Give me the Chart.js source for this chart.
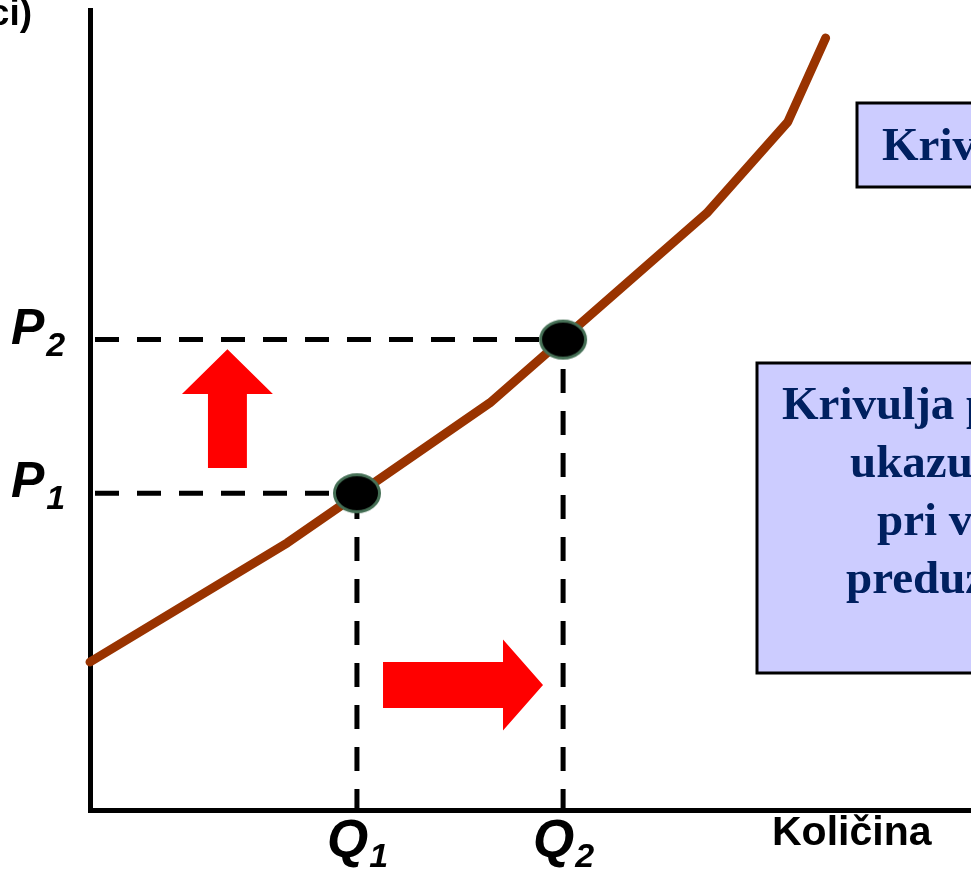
<!DOCTYPE html>
<html>
<head>
<meta charset="utf-8">
<script src="https://cdn.jsdelivr.net/npm/chart.js@4/dist/chart.umd.min.js"></script>
<style>
  html, body { margin: 0; padding: 0; background: #ffffff; }
  #wrap { position: relative; width: 971px; height: 870px; }
</style>
</head>
<body>
<div id="wrap"><canvas id="supply" width="971" height="870"></canvas></div>
<script>
// Supply curve vertices: quantity (x) and price (y)
const supplyQuantity = [0, 2.24, 4.54, 7.0, 7.92, 8.35];
const supplyPrice = [1.85, 3.34, 5.09, 7.46, 8.6, 9.65];

// The two marked positions on the curve
const quantityLevels = [3.03, 5.37];
const priceLevels = [3.96, 5.88];
const levelSubscripts = ['1', '2'];

// Text
const axisTitleX = 'Količina';
const axisTitleY = 'ci)';
const noteUpper = ['Kriv'];
const noteLower = ['Krivulja p', 'ukazu', 'pri v', 'preduz'];

// Shift arrows, in axis units
const arrowUp = { x: 1.56, tip: 5.76, head: 5.2, base: 4.275, headHalf: 0.516, shaftHalf: 0.221 };
const arrowRight = { y: 1.5625, tip: 5.142, head: 4.688, base: 3.326, headHalf: 0.569, shaftHalf: 0.2875 };

const CURVE = '#993300';
const NAVY = '#002060';
const BOX_FILL = '#ccccff';
const LABEL_FONT = '"Liberation Sans", Arial, sans-serif';
const NOTE_FONT = '"Liberation Serif", "Times New Roman", serif';

// Black oval marker with a thin green-grey rim
function makeDot() {
  const cv = document.createElement('canvas');
  cv.width = 52; cv.height = 44;
  const g = cv.getContext('2d');
  g.beginPath();
  g.ellipse(26, 22, 22.5, 18.5, 0, 0, Math.PI * 2);
  g.fillStyle = '#000000';
  g.fill();
  g.lineWidth = 3;
  g.strokeStyle = '#456f55';
  g.stroke();
  return cv;
}
const dot = makeDot();

const markerData = quantityLevels.map((q, i) => ({ x: q, y: priceLevels[i] }));
const curveData = supplyQuantity.map((q, i) => ({ x: q, y: supplyPrice[i] }));

const guideSets = [];
quantityLevels.forEach((q, i) => {
  const p = priceLevels[i];
  guideSets.push({
    data: [{ x: 0, y: p }, { x: q, y: p }],
    borderColor: '#000000', borderWidth: 5, borderDash: [24, 18], borderDashOffset: 37,
    pointRadius: 0, tension: 0, borderCapStyle: 'butt', clip: false
  });
  guideSets.push({
    data: [{ x: q, y: 0 }, { x: q, y: p }],
    borderColor: '#000000', borderWidth: 5, borderDash: [24, 18], borderDashOffset: 3,
    pointRadius: 0, tension: 0, borderCapStyle: 'butt', clip: false
  });
});

function drawBox(ctx, x, y, w, h) {
  ctx.save();
  ctx.fillStyle = BOX_FILL;
  ctx.fillRect(x, y, w, h);
  ctx.lineWidth = 3;
  ctx.strokeStyle = '#000000';
  ctx.strokeRect(x, y, w, h);
  ctx.restore();
}

const annotations = {
  id: 'annotations',
  afterDatasetsDraw(chart) {
    const { ctx } = chart;
    const xs = chart.scales.x, ys = chart.scales.y;
    ctx.save();

    // Up arrow (price rises)
    const ux = xs.getPixelForValue(arrowUp.x);
    const uTip = ys.getPixelForValue(arrowUp.tip);
    const uHead = ys.getPixelForValue(arrowUp.head);
    const uBase = ys.getPixelForValue(arrowUp.base);
    const uHH = xs.getPixelForValue(arrowUp.headHalf) - xs.getPixelForValue(0);
    const uSH = xs.getPixelForValue(arrowUp.shaftHalf) - xs.getPixelForValue(0);
    ctx.fillStyle = '#ff0000';
    ctx.beginPath();
    ctx.moveTo(ux, uTip);
    ctx.lineTo(ux + uHH, uHead);
    ctx.lineTo(ux + uSH, uHead);
    ctx.lineTo(ux + uSH, uBase);
    ctx.lineTo(ux - uSH, uBase);
    ctx.lineTo(ux - uSH, uHead);
    ctx.lineTo(ux - uHH, uHead);
    ctx.closePath();
    ctx.fill();

    // Right arrow (quantity rises)
    const ry = ys.getPixelForValue(arrowRight.y);
    const rTip = xs.getPixelForValue(arrowRight.tip);
    const rHead = xs.getPixelForValue(arrowRight.head);
    const rBase = xs.getPixelForValue(arrowRight.base);
    const rHH = ys.getPixelForValue(0) - ys.getPixelForValue(arrowRight.headHalf);
    const rSH = ys.getPixelForValue(0) - ys.getPixelForValue(arrowRight.shaftHalf);
    ctx.beginPath();
    ctx.moveTo(rTip, ry);
    ctx.lineTo(rHead, ry + rHH);
    ctx.lineTo(rHead, ry + rSH);
    ctx.lineTo(rBase, ry + rSH);
    ctx.lineTo(rBase, ry - rSH);
    ctx.lineTo(rHead, ry - rSH);
    ctx.lineTo(rHead, ry - rHH);
    ctx.closePath();
    ctx.fill();

    ctx.restore();
  },
  afterDraw(chart) {
    const { ctx } = chart;
    const xs = chart.scales.x, ys = chart.scales.y;
    const area = chart.chartArea;
    ctx.save();
    ctx.fillStyle = '#000000';
    ctx.textBaseline = 'alphabetic';

    // Quantity labels with subscripts
    quantityLevels.forEach((q, i) => {
      const px = xs.getPixelForValue(q);
      ctx.font = 'italic bold 53px ' + LABEL_FONT;
      ctx.textAlign = 'left';
      const qx = px - 30;
      ctx.fillText('Q', qx, area.bottom + 47);
      const w = ctx.measureText('Q').width;
      ctx.font = 'italic bold 34px ' + LABEL_FONT;
      ctx.fillText(levelSubscripts[i], qx + w + 1, area.bottom + 57);
    });

    // Price labels with subscripts
    priceLevels.forEach((p, i) => {
      const py = ys.getPixelForValue(p);
      ctx.font = 'italic bold 50px ' + LABEL_FONT;
      ctx.textAlign = 'left';
      ctx.fillText('P', 11, py + 4);
      const w = ctx.measureText('P').width;
      ctx.font = 'italic bold 34px ' + LABEL_FONT;
      ctx.fillText(levelSubscripts[i], 11 + w + 2, py + 16);
    });

    // Axis titles
    ctx.font = 'bold 41px ' + LABEL_FONT;
    ctx.textAlign = 'left';
    ctx.fillText(axisTitleX, 772, area.bottom + 35);
    ctx.font = 'bold 37px ' + LABEL_FONT;
    ctx.textAlign = 'right';
    ctx.fillText(axisTitleY, 32, 25);

    // Note boxes on the right
    drawBox(ctx, 857, 103, 140, 84);
    drawBox(ctx, 757, 363, 240, 310);
    ctx.fillStyle = NAVY;
    ctx.font = 'bold 47px ' + NOTE_FONT;
    ctx.textAlign = 'left';
    ctx.fillText(noteUpper[0], 882, 160);
    const lineX = [782, 850, 877, 846];
    noteLower.forEach((t, i) => ctx.fillText(t, lineX[i], 419 + i * 58));

    ctx.restore();
  }
};

new Chart(document.getElementById('supply'), {
  type: 'line',
  data: {
    datasets: [
      {
        data: markerData,
        showLine: false,
        pointStyle: dot,
        pointRadius: 22,
        pointHoverRadius: 22,
        clip: false
      },
      {
        data: curveData,
        borderColor: CURVE,
        borderWidth: 9,
        tension: 0,
        pointRadius: 0,
        borderCapStyle: 'round',
        borderJoinStyle: 'round',
        clip: false
      },
      ...guideSets
    ]
  },
  options: {
    responsive: false,
    devicePixelRatio: 1,
    animation: false,
    events: [],
    layout: { autoPadding: false, padding: { left: 90, top: 10, right: 0, bottom: 60 } },
    plugins: {
      legend: { display: false },
      tooltip: { enabled: false },
      title: { display: false }
    },
    scales: {
      x: {
        type: 'linear',
        min: 0, max: 10,
        grid: { display: false, drawTicks: false },
        border: { display: true, color: '#000000', width: 5 },
        ticks: { display: false }
      },
      y: {
        type: 'linear',
        min: 0, max: 10,
        grid: { display: false, drawTicks: false },
        border: { display: true, color: '#000000', width: 5 },
        ticks: { display: false }
      }
    }
  },
  plugins: [annotations]
});
</script>
</body>
</html>
